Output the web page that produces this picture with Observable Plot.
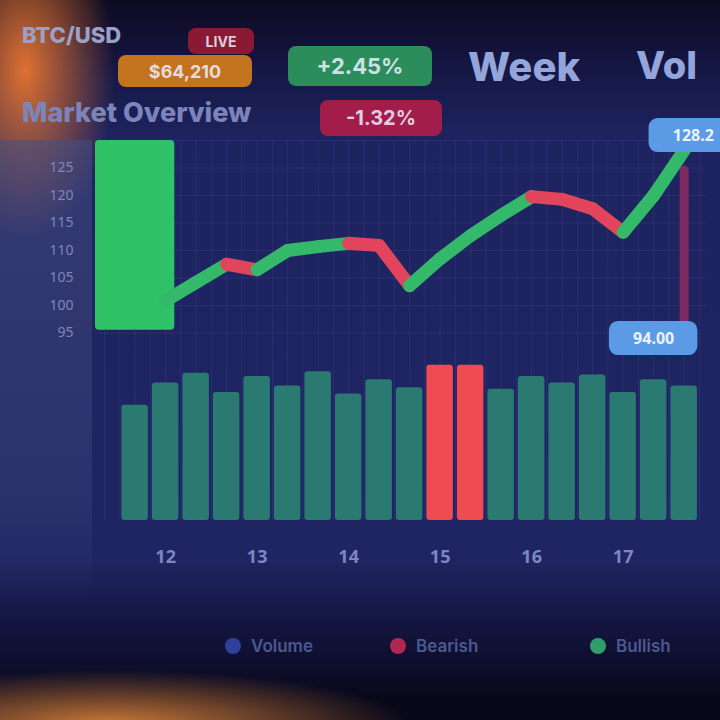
<!DOCTYPE html>
<html><head><meta charset="utf-8">
<script src="https://cdn.jsdelivr.net/npm/d3@7"></script>
<script src="https://cdn.jsdelivr.net/npm/@observablehq/plot@0.6"></script>
<style>
html,body{margin:0;padding:0;width:720px;height:720px;overflow:hidden;font-family:Inter,"Noto Sans",sans-serif;}
body{position:relative;background:
 radial-gradient(ellipse 90px 170px at 25px 70px, rgba(232,118,48,0.95), rgba(232,118,48,0) 100%),
 radial-gradient(ellipse 300px 55px at 110px 725px, rgba(214,128,58,0.95), rgba(214,128,58,0) 100%),
 linear-gradient(to bottom,#0d0a20 0px,#141540 60px,#1e2460 140px,#1f2562 560px,#151744 615px,#08081a 700px);}
#left{position:absolute;left:0;top:140px;width:92px;height:460px;background:linear-gradient(to bottom,rgba(70,78,130,0.55),rgba(60,68,120,0.45) 75%,rgba(40,45,90,0));}
.pill{position:absolute;border-radius:8px;font-weight:700;color:rgba(235,240,255,0.85);display:flex;align-items:center;justify-content:center;}
.big{position:absolute;font-weight:800;color:#93a5da;}
#price,#vol{position:absolute;left:0;}
#price{top:120px;} #vol{top:360px;}
#legend{position:absolute;top:636px;left:0;width:720px;height:30px;}
.li{position:absolute;display:flex;align-items:center;gap:10px;font-size:17px;font-weight:600;color:#4d5890;}
.dot{width:16px;height:16px;border-radius:50%;}
</style></head><body>
<div id="left"></div>
<div class="big" style="left:22px;top:22px;font-size:22px;color:#9aa0c8">BTC/USD</div>
<div class="pill" style="left:188px;top:28px;width:66px;height:26px;background:#8a1a33;font-size:14px">LIVE</div>
<div class="pill" style="left:118px;top:55px;width:134px;height:32px;background:#c4731f;font-size:18px">$64,210</div>
<div class="pill" style="left:288px;top:46px;width:144px;height:40px;background:#2c8d5c;font-size:22px">+2.45%</div>
<div class="big" style="left:468px;top:42px;font-size:40px">Week</div>
<div class="big" style="left:636px;top:42px;font-size:38px">Vol</div>
<div class="big" style="left:22px;top:96px;font-size:27px;color:#7b84bb">Market Overview</div>
<div class="pill" style="left:320px;top:100px;width:122px;height:36px;background:#a31d4b;font-size:20px">-1.32%</div>
<div id="price"></div>
<div id="vol"></div>
<div id="legend"></div>
<script>
// ---- data ----
const priceDays = [1,2,3,4,5,6,7,8,9,10,11,12,13,14,15,16,17,18];
const prices    = [100.9,104.2,107.5,106.5,110.0,110.7,111.3,110.9,103.6,108.5,112.7,116.4,119.8,119.3,117.6,113.3,120.0,128.2];
const candleDay = [0];
const candleOpen = [95.5];
const candleClose = [130];
const wickDay = [18];
const wickLow = [95.5];
const wickHigh = [124.5];
const labelDays = [18.3, 17];
const labelPrices = [130.9, 94];
const labelTexts = ["128.2", "94.00"];
const volDays = [0,1,2,3,4,5,6,7,8,9,10,11,12,13,14,15,16,17,18];
const volumes = [72,86,92,80,90,84,93,79,88,83,97,97,82,90,86,91,80,88,84];
const volDir  = ["up","up","up","up","up","up","up","up","up","up","down","down","up","up","up","up","up","up","up"];
const tickDays = [1,4,7,10,13,16];
const tickLabels = ["12","13","14","15","16","17"];
const legendNames = ["Volume","Bearish","Bullish"];
const legendColors = ["#2f3f9a","#b0284f","#2f9e6a"];

const UP = "#34b86a", DOWN = "#e2455b";
const segs = priceDays.slice(1).map((d,i)=>({x1:priceDays[i],y1:prices[i],x2:d,y2:prices[i+1],dir:prices[i+1]>=prices[i]?"up":"down"}));
const candles = candleDay.map((d,i)=>({day:d,open:candleOpen[i],close:candleClose[i]}));
const wicks = wickDay.map((d,i)=>({day:d,low:wickLow[i],high:wickHigh[i]}));
const labels = labelDays.map((d,i)=>({day:d,price:labelPrices[i],text:labelTexts[i]}));
const vols = volDays.map((d,i)=>({day:d,v:volumes[i],dir:volDir[i]}));
const xDomain = [-1.3, 18.7];
const gridTicks = d3.range(-1, 19, 0.5);

const price = Plot.plot({
  width:720, height:240, marginTop:20, marginBottom:0, marginLeft:95, marginRight:15,
  style:{background:"transparent", overflow:"visible"},
  x:{domain:xDomain, axis:null},
  y:{domain:[90,130]},
  marks:[
    Plot.gridX(gridTicks,{stroke:"#3c4894",strokeOpacity:0.35}),
    Plot.gridY([95,100,105,110,115,120,125,130],{stroke:"#3c4894",strokeOpacity:0.35}),
    Plot.axisY({ticks:[95,100,105,110,115,120,125],tickSize:0,tickPadding:22,fill:"#7d86bd",fontSize:14}),
    Plot.ruleX(wicks,{x:"day",y1:"low",y2:"high",stroke:"#7e2a62",strokeWidth:9,strokeLinecap:"round"}),
    Plot.rect(candles,{x1:d=>d.day-1.3,x2:d=>d.day+1.3,y1:"open",y2:"close",fill:"#2fc266",rx:4}),
    Plot.link(segs,{x1:"x1",y1:"y1",x2:"x2",y2:"y2",stroke:d=>d.dir==="up"?UP:DOWN,strokeWidth:13,strokeLinecap:"round"}),
    Plot.rect(labels,{x1:d=>d.day-1.45,x2:d=>d.day+1.45,y1:d=>d.price-3.1,y2:d=>d.price+3.1,fill:"#5b9be6",rx:9}),
    Plot.text(labels,{x:"day",y:"price",text:"text",fill:"#eaf2ff",fontSize:16,fontWeight:"bold"})
  ]
});
document.getElementById("price").append(price);

const vol = Plot.plot({
  width:720, height:230, marginTop:0, marginBottom:70, marginLeft:95, marginRight:15,
  style:{background:"transparent"},
  x:{domain:xDomain},
  y:{domain:[0,100], axis:null},
  marks:[
    Plot.gridX(gridTicks,{stroke:"#3c4894",strokeOpacity:0.35}),
    Plot.rectY(vols,{x1:d=>d.day-0.5,x2:d=>d.day+0.5,y:"v",fill:d=>d.dir==="up"?"#2a7a72":"#f04a52",insetLeft:2,insetRight:2,rx:3}),
    Plot.axisX({ticks:tickDays,tickFormat:d=>tickLabels[tickDays.indexOf(d)],tickSize:0,tickPadding:30,fill:"#7c86c0",fontSize:18,fontWeight:"bold"})
  ]
});
document.getElementById("vol").append(vol);

const legendX = [225, 390, 590];
const lg = document.getElementById("legend");
legendNames.forEach((n,i)=>{
  const el = document.createElement("div");
  el.className="li"; el.style.left = legendX[i]+"px";
  el.innerHTML = `<span class="dot" style="background:${legendColors[i]}"></span><span>${n}</span>`;
  lg.append(el);
});
</script>
</body></html>
